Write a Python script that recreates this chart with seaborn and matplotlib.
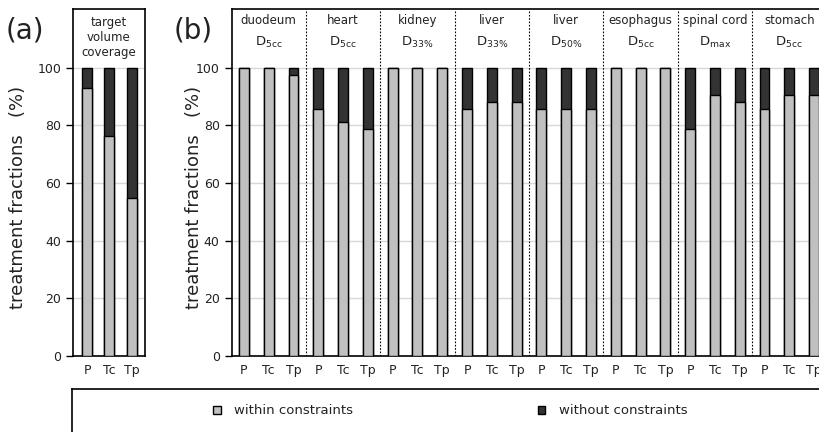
import numpy as np
import pandas as pd
import matplotlib
matplotlib.use("Agg")
import matplotlib.pyplot as plt
from matplotlib.patches import Patch
import seaborn as sns

# ---- data ----
methods = ["P", "Tc", "Tp"]
a_header = "target\nvolume\ncoverage"
a_within = [92.9, 76.2, 54.8]

organs = ["duodeum", "heart", "kidney", "liver", "liver", "esophagus", "spinal cord", "stomach"]
metrics = [r"D$_{\mathrm{5cc}}$", r"D$_{\mathrm{5cc}}$", r"D$_{\mathrm{33\%}}$", r"D$_{\mathrm{33\%}}$",
           r"D$_{\mathrm{50\%}}$", r"D$_{\mathrm{5cc}}$", r"D$_{\mathrm{max}}$", r"D$_{\mathrm{5cc}}$"]
b_within = [
    [100.0, 100.0, 97.6],   # duodeum
    [85.7, 81.0, 78.6],     # heart
    [100.0, 100.0, 100.0],  # kidney
    [85.7, 88.1, 88.1],     # liver D33
    [85.7, 85.7, 85.7],     # liver D50
    [100.0, 100.0, 100.0],  # esophagus
    [78.6, 90.5, 88.1],     # spinal cord
    [85.7, 90.5, 90.5],     # stomach
]
total = 100.0
legend_labels = ["within constraints", "without constraints"]

LIGHT = "#c0c0c0"
DARK = "#333333"
TXT = "#222222"

sns.set_style("white")
plt.rcParams["font.family"] = ["DejaVu Sans"]

fig = plt.figure(figsize=(8.19, 4.32), dpi=100)
bot, hgt = 0.1766, 0.802
ax_a = fig.add_axes([73 / 819, bot, 72 / 819, hgt])
ax_b = fig.add_axes([231.5 / 819, bot, 595 / 819, hgt])
YMAX = 120.3


def draw(ax, slots, within, width):
    df = pd.DataFrame({"slot": slots, "within": within, "total": [total] * len(slots)})
    sns.barplot(data=df, x="slot", y="total", native_scale=True, color=DARK, saturation=1,
                edgecolor="black", linewidth=1.0, width=width, ax=ax, zorder=3, errorbar=None)
    sns.barplot(data=df, x="slot", y="within", native_scale=True, color=LIGHT, saturation=1,
                edgecolor="black", linewidth=1.0, width=width, ax=ax, zorder=4, errorbar=None)
    for yv in range(0, 101, 20):
        ax.axhline(yv, color="#d8d8d8", lw=1.0, zorder=1)
    ax.set_ylim(0, YMAX)
    ax.set_yticks(range(0, 101, 20))
    ax.tick_params(axis="y", length=5, width=1, labelsize=9, direction="out", left=True,
                   color="black", labelcolor=TXT)
    ax.tick_params(axis="x", length=0, labelsize=9, pad=6, labelcolor=TXT)
    for s in ax.spines.values():
        s.set_color("black")
        s.set_linewidth(1.2)
    ax.set_xlabel("")
    ax.set_ylabel("treatment fractions   (%)", fontsize=13, color=TXT)


# panel a
slots_a = list(range(3))
draw(ax_a, slots_a, a_within, 0.45)
ax_a.set_xlim(-0.63, 2.6)
ax_a.set_xticks(slots_a)
ax_a.set_xticklabels(methods)
ax_a.text((-0.63 + 2.6) / 2, 118.0, a_header, ha="center", va="top", fontsize=8.5,
          linespacing=1.2, color=TXT)
ax_a.yaxis.set_label_coords(-0.64, 0.458)

# panel b
slots_b = list(range(len(organs) * 3))
within_b = [v for grp in b_within for v in grp]
draw(ax_b, slots_b, within_b, 0.4)
ax_b.set_xlim(-0.5, len(slots_b) - 0.5)
ax_b.set_xticks(slots_b)
ax_b.set_xticklabels(methods * len(organs))
for g in range(len(organs)):
    cx = g * 3 + 1
    ax_b.text(cx, 116.5, organs[g], ha="center", va="center", fontsize=8.5, color=TXT)
    ax_b.text(cx, 108.6, metrics[g], ha="center", va="center", fontsize=9.5, color=TXT)
    if g > 0:
        ax_b.axvline(g * 3 - 0.5, color="black", lw=0.8, ls=(0, (1.5, 1.5)), zorder=5)
ax_b.yaxis.set_label_coords(-0.048, 0.458)

# panel labels
fig.text(25 / 819, 1 - 30 / 432, "(a)", fontsize=20, ha="center", va="center", color=TXT)
fig.text(193 / 819, 1 - 30 / 432, "(b)", fontsize=20, ha="center", va="center", color=TXT)

# legend box
ax_l = fig.add_axes([72 / 819, -0.1, 755 / 819, 0.1995])
ax_l.set_xticks([])
ax_l.set_yticks([])
for s in ax_l.spines.values():
    s.set_color("black")
    s.set_linewidth(1.2)
handles = [Patch(facecolor=LIGHT, edgecolor="black", lw=1.0),
           Patch(facecolor=DARK, edgecolor="black", lw=1.0)]
leg = fig.legend(handles, legend_labels, loc="center", bbox_to_anchor=(450 / 819, 1 - 411 / 432),
                 ncol=2, frameon=False, fontsize=9.5, handlelength=0.6, handleheight=0.6,
                 columnspacing=14, handletextpad=1.0)
for t in leg.get_texts():
    t.set_color(TXT)

fig.savefig("out.png", dpi=100)
